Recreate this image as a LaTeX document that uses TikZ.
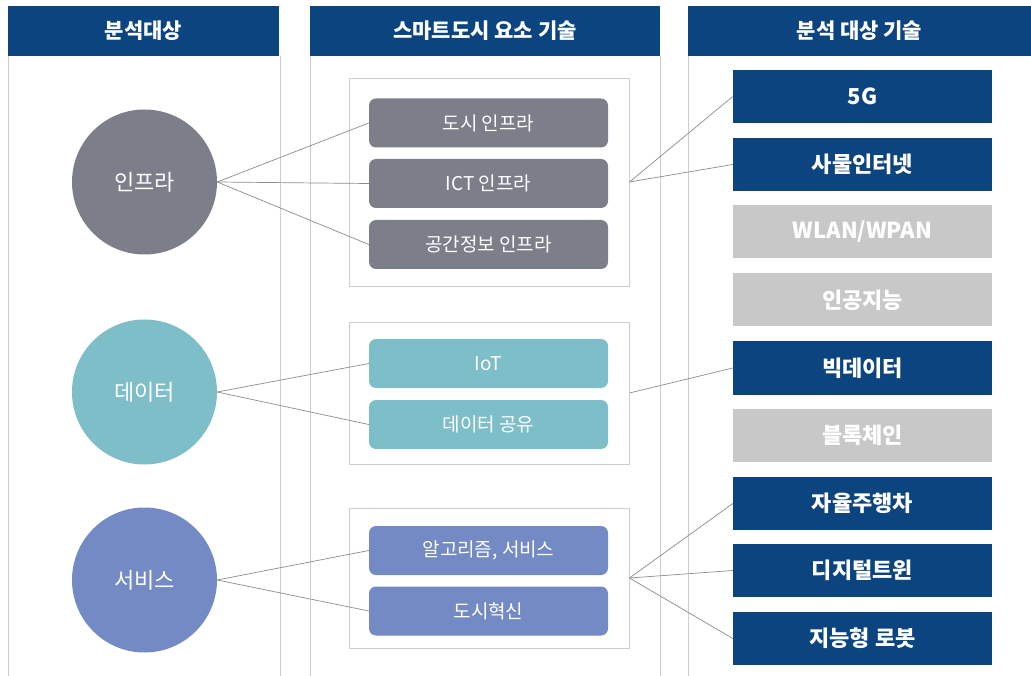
\documentclass[tikz,border=0pt]{standalone}
\usepackage{fontspec}
\setmainfont{Noto Sans CJK KR}
\definecolor{navy}{RGB}{12,68,128}
\definecolor{gbox}{RGB}{124,127,138}
\definecolor{teal}{RGB}{126,190,200}
\definecolor{bluev}{RGB}{115,138,196}
\definecolor{lgray}{RGB}{200,200,200}
\definecolor{panelc}{RGB}{205,205,205}
\definecolor{linec}{RGB}{140,140,140}
\begin{document}
\begin{tikzpicture}[x=1pt,y=-1pt,
  header/.style={fill=navy,text=white,font=\fontsize{21}{23}\selectfont\bfseries,inner sep=0pt,minimum height=50pt},
  panel/.style={draw=panelc,line width=0.9pt},
  circ/.style={circle,minimum size=145pt,inner sep=0pt,text=white,font=\fontsize{22}{24}\selectfont},
  rbox/.style={rounded corners=7pt,minimum width=239pt,minimum height=49pt,inner sep=0pt,text=white,font=\fontsize{19}{21}\selectfont},
  grp/.style={draw=panelc,line width=0.9pt,minimum width=280pt,inner sep=0pt},
  tbox/.style={minimum width=259pt,minimum height=53pt,inner sep=0pt,text=white,font=\fontsize{22}{24}\selectfont\bfseries},
  link/.style={draw=linec,line width=0.7pt}]
\useasboundingbox (0,0) rectangle (1031,676);
\fill[white] (0,0) rectangle (1031,676);
% headers
\node[header,minimum width=271pt] (h1) at (143.5,31) {분석대상};
\node[header,minimum width=350pt] (h2) at (485,31) {스마트도시 요소 기술};
\node[header,minimum width=343pt] (h3) at (859.5,31) {분석 대상 기술};
% panel borders
\draw[panel] (8,56) -- (8,676);
\draw[panel] (280,56) -- (280,676);
\draw[panel] (310,56) -- (310,676);
\draw[panel] (660,56) -- (660,676);
\draw[panel] (688,56) -- (688,676);
% circles
\node[circ,fill=gbox] (c1) at (144.5,182) {인프라};
\node[circ,fill=teal] (c2) at (144.5,392) {데이터};
\node[circ,fill=bluev] (c3) at (144.5,580) {서비스};
% groups
\node[grp,minimum height=208pt] (g1) at (489,182) {};
\node[grp,minimum height=142pt] (g2) at (489,393) {};
\node[grp,minimum height=140pt] (g3) at (489,578) {};
% middle boxes
\node[rbox,fill=gbox] (m1) at (488.5,123) {도시 인프라};
\node[rbox,fill=gbox] (m2) at (488.5,183.5) {ICT 인프라};
\node[rbox,fill=gbox] (m3) at (488.5,244.5) {공간정보 인프라};
\node[rbox,fill=teal] (m4) at (488.5,363.5) {IoT};
\node[rbox,fill=teal] (m5) at (488.5,424.5) {데이터 공유};
\node[rbox,fill=bluev] (m6) at (488.5,550.5) {알고리즘, 서비스};
\node[rbox,fill=bluev] (m7) at (488.5,611) {도시혁신};
% right boxes
\node[tbox,fill=navy] (t1) at (862.5,96.5) {5G};
\node[tbox,fill=navy] (t2) at (862.5,164.5) {사물인터넷};
\node[tbox,fill=lgray] (t3) at (862.5,232) {WLAN/WPAN};
\node[tbox,fill=lgray] (t4) at (862.5,300) {인공지능};
\node[tbox,fill=navy] (t5) at (862.5,368) {빅데이터};
\node[tbox,fill=lgray] (t6) at (862.5,435.5) {블록체인};
\node[tbox,fill=navy] (t7) at (862.5,503.5) {자율주행차};
\node[tbox,fill=navy] (t8) at (862.5,570.5) {디지털트윈};
\node[tbox,fill=navy] (t9) at (862.5,638.5) {지능형 로봇};
% connectors
\draw[link] (c1.east) -- (m1.west);
\draw[link] (c1.east) -- (m2.west);
\draw[link] (c1.east) -- (m3.west);
\draw[link] (c2.east) -- (m4.west);
\draw[link] (c2.east) -- (m5.west);
\draw[link] (c3.east) -- (m6.west);
\draw[link] (c3.east) -- (m7.west);
\draw[link] (g1.east) -- (t1.west);
\draw[link] (g1.east) -- (t2.west);
\draw[link] (g2.east) -- (t5.west);
\draw[link] (g3.east) -- (t7.west);
\draw[link] (g3.east) -- (t8.west);
\draw[link] (g3.east) -- (t9.west);
\end{tikzpicture}
\end{document}
